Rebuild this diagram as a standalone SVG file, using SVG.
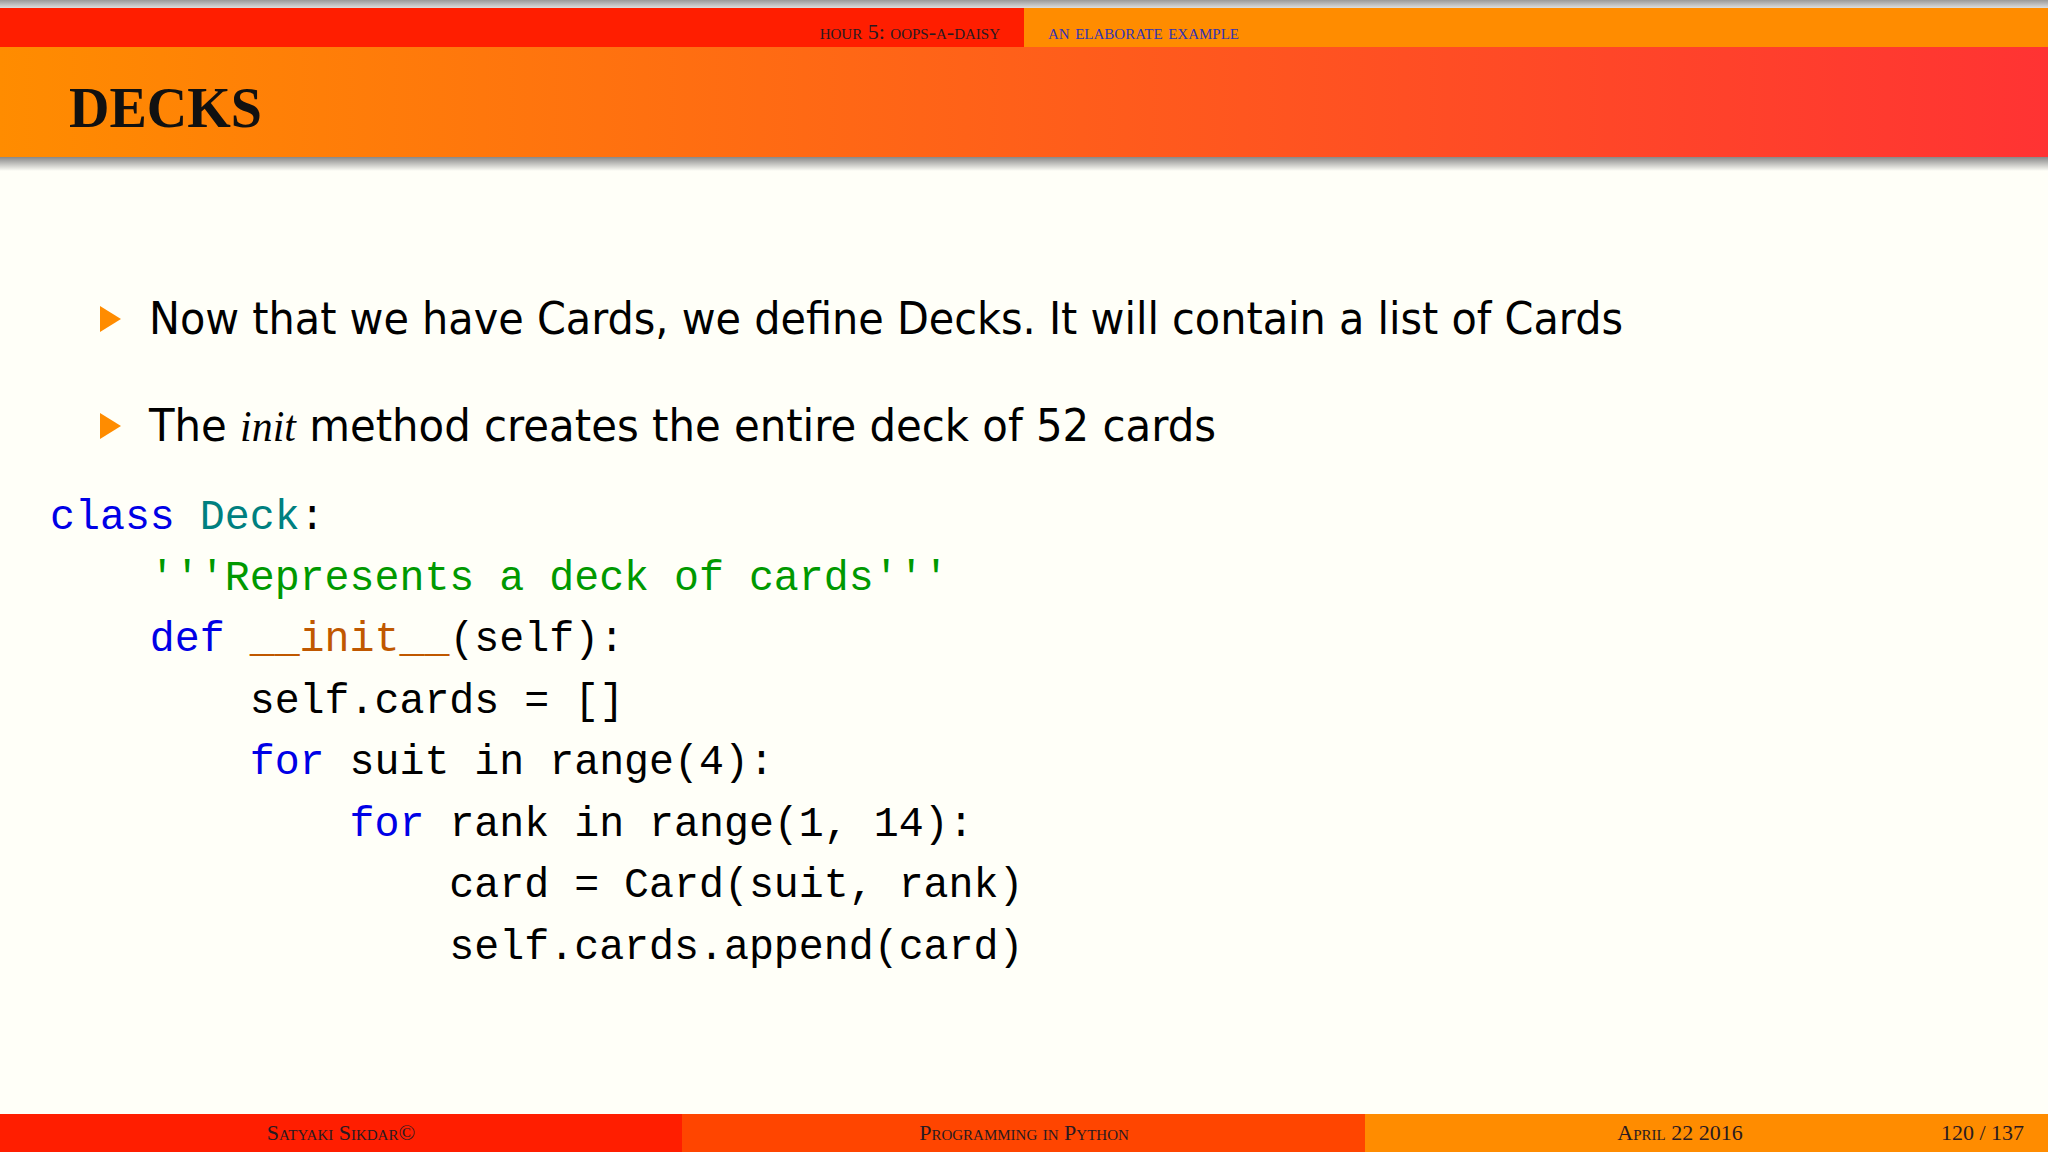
<svg xmlns="http://www.w3.org/2000/svg" width="2048" height="1152" viewBox="0 0 2048 1152">
<defs>
<linearGradient id="tg" x1="0" x2="1" y1="0" y2="0"><stop offset="0" stop-color="#FF8C00"/><stop offset="1" stop-color="#FF3333"/></linearGradient>
<linearGradient id="sh" x1="0" x2="0" y1="0" y2="1"><stop offset="0" stop-color="#888"/><stop offset="1" stop-color="#FFFFF8"/></linearGradient>
<linearGradient id="st" x1="0" x2="0" y1="0" y2="1"><stop offset="0" stop-color="#999"/><stop offset="1" stop-color="#ddd"/></linearGradient>
</defs>
<style>
.sc{font-family:"Liberation Serif",serif;font-variant:small-caps;font-size:22px}
.b{font-family:"DejaVu Sans","Liberation Sans",sans-serif;font-size:44px;fill:#000}
.c{font-family:"Liberation Mono",monospace;font-size:41.6px;fill:#000;white-space:pre}
.k{fill:#0000E6}.t{fill:#008080}.s{fill:#009900}.f{fill:#C05800}
</style>
<rect width="2048" height="1152" fill="#FFFFF8"/>
<g id="header">
<rect x="0" y="0" width="2048" height="8" fill="url(#st)"/>
<rect x="0" y="8" width="1024" height="39" fill="#FF1E00"/>
<rect x="1024" y="8" width="1024" height="39" fill="#FF8C00"/>
<text class="sc" x="1000" y="39" text-anchor="end" fill="#2A1A20">hour 5: oops-a-daisy</text>
<text class="sc" x="1048" y="39" fill="#3333B3">an elaborate example</text>
<rect x="0" y="47" width="2048" height="110" fill="url(#tg)"/>
<rect x="0" y="157" width="2048" height="14" fill="url(#sh)"/>
<text x="69" y="127" font-family="Liberation Serif,serif" font-weight="bold" font-size="56" fill="#111">DECKS</text>
</g>
<g id="bullets">
<polygon points="100,306 121,319 100,332" fill="#FF8C00"/>
<text class="b" x="149" y="334" textLength="1474" lengthAdjust="spacingAndGlyphs">Now that we have Cards, we define Decks. It will contain a list of Cards</text>
<polygon points="100,413 121,426 100,439" fill="#FF8C00"/>
<text class="b" x="149" y="441" textLength="1067" lengthAdjust="spacingAndGlyphs">The <tspan font-family="Liberation Serif,serif" font-style="italic">init</tspan> method creates the entire deck of 52 cards</text>
</g>
<g id="code">
<text class="c" x="50" y="529"><tspan class="k">class</tspan> <tspan class="t">Deck</tspan>:</text>
<text class="c" x="50" y="590">    <tspan class="s">'''Represents a deck of cards'''</tspan></text>
<text class="c" x="50" y="651">    <tspan class="k">def</tspan> <tspan class="f">__init__</tspan>(self):</text>
<text class="c" x="50" y="713">        self.cards = []</text>
<text class="c" x="50" y="774">        <tspan class="k">for</tspan> suit in range(4):</text>
<text class="c" x="50" y="836">            <tspan class="k">for</tspan> rank in range(1, 14):</text>
<text class="c" x="50" y="897">                card = Card(suit, rank)</text>
<text class="c" x="50" y="959">                self.cards.append(card)</text>
</g>
<g id="footer">
<rect x="0" y="1114" width="682" height="38" fill="#FF1E00"/>
<rect x="682" y="1114" width="683" height="38" fill="#FF4500"/>
<rect x="1365" y="1114" width="683" height="38" fill="#FF8C00"/>
<text class="sc" x="341" y="1140" text-anchor="middle" fill="#2A1A20" font-size="26">Satyaki Sikdar©</text>
<text class="sc" x="1024" y="1140" text-anchor="middle" fill="#2A1A20" font-size="26">Programming in Python</text>
<text class="sc" x="1680" y="1140" text-anchor="middle" fill="#2A1A20" font-size="26">April 22 2016</text>
<text class="sc" x="2024" y="1140" text-anchor="end" fill="#2A1A20" font-size="26">120 / 137</text>
</g>
</svg>
